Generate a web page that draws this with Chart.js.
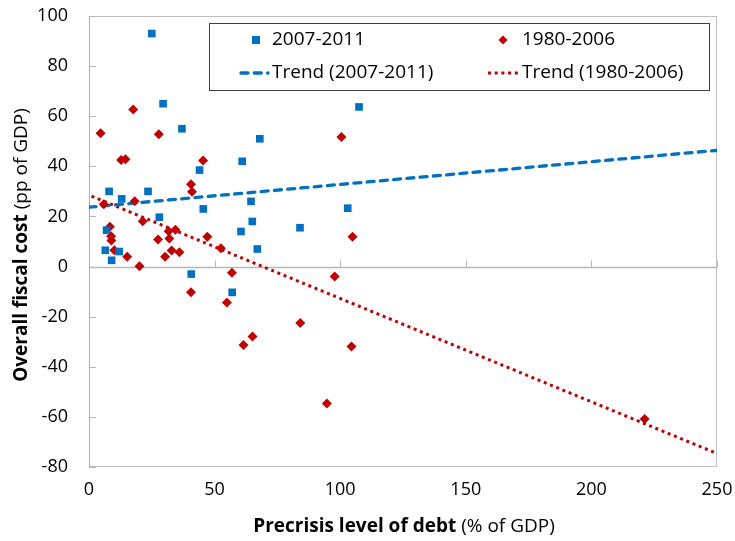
<!DOCTYPE html>
<html><head><meta charset="utf-8">
<script src="https://cdn.jsdelivr.net/npm/chart.js@4.4.1/dist/chart.umd.min.js"></script>
<style>html,body{margin:0;padding:0;background:#fff}#wrap{width:735px;height:541px}</style>
</head><body><div id="wrap"><canvas id="c" width="735" height="541"></canvas></div>
<script>
// ---- data ----
const blueX = [25, 29.5, 37, 68, 61, 44, 8, 13, 23.5, 45.5, 28, 64.5, 65, 60.5, 67, 84, 7, 6.5, 12, 9, 40.7, 57, 103, 107.5];
const blueY = [93, 65, 55, 51, 42, 38.5, 30, 27, 30, 23, 19.7, 26, 18, 14, 7, 15.5, 14.5, 6.5, 6, 2.5, -3, -10.3, 23.3, 63.7];
const redX = [4.6, 17.6, 27.8, 12.8, 14.5, 45.4, 40.6, 41, 5.9, 18.2, 21.4, 8.3, 8.8, 8.9, 10.1, 15.2, 20.1, 27.5, 31.7, 34.4, 32, 30.3, 32.9, 36, 47.1, 52.5, 56.9, 40.6, 54.9, 65.1, 61.5, 84.1, 100.5, 104.9, 97.8, 104.5, 94.7, 221.2];
const redY = [53.2, 62.7, 52.8, 42.5, 42.8, 42.3, 32.8, 29.9, 24.9, 26.1, 18.1, 15.9, 12.1, 10.4, 6.5, 3.9, 0.1, 10.8, 14.1, 14.7, 11.2, 3.9, 6.4, 5.7, 11.9, 7.3, -2.5, -10.3, -14.3, -27.9, -31.3, -22.5, 51.7, 11.9, -4, -31.9, -54.7, -60.8];
const blueTrendX = [0, 250];
const blueTrendY = [23.7, 46.4];
const redTrendX = [1, 250];
const redTrendY = [28.1, -74.6];
const seriesLabels = ['2007-2011', '1980-2006', 'Trend (2007-2011)', 'Trend (1980-2006)'];
const xTicks = [0, 50, 100, 150, 200, 250];
const yTicks = [-80, -60, -40, -20, 0, 20, 40, 60, 80, 100];

const BLUE = '#0070C0', RED = '#C00000';
const FONT = "'Open Sans', 'Noto Sans', sans-serif";
const pts = (xs, ys) => xs.map((v, i) => ({x: v, y: ys[i]}));
const BLUE_DASH = [7, 6.3], RED_DASH = [3, 3.7];

const overlay = {
  id: 'overlay',
  beforeDatasetsDraw(chart) {
    const {ctx, chartArea: a, scales: {x, y}} = chart;
    ctx.save();
    ctx.strokeStyle = '#bfbfbf';
    ctx.lineWidth = 1;
    ctx.strokeRect(a.left + 0.5, a.top + 0.5, a.right - a.left - 1, a.bottom - a.top - 1);
    const y0 = Math.round(y.getPixelForValue(0)) + 0.5;
    ctx.strokeStyle = '#b8b8b8';
    ctx.lineWidth = 1.5;
    ctx.beginPath(); ctx.moveTo(a.left, y0); ctx.lineTo(a.right, y0); ctx.stroke();
    ctx.lineWidth = 1;
    ctx.beginPath();
    xTicks.forEach(v => { const px = Math.round(x.getPixelForValue(v)) + 0.5; ctx.moveTo(px, y0); ctx.lineTo(px, y0 - 7); });
    yTicks.forEach(v => { const py = Math.round(y.getPixelForValue(v)) + 0.5; ctx.moveTo(a.left, py); ctx.lineTo(a.left + 7, py); });
    ctx.stroke();
    ctx.strokeStyle = '#b0b0b0';
    ctx.beginPath(); ctx.moveTo(a.left + 0.5, a.top); ctx.lineTo(a.left + 0.5, a.bottom); ctx.stroke();
    ctx.restore();
  },
  afterDraw(chart) {
    const {ctx} = chart;
    ctx.save();
    ctx.fillStyle = '#000';
    const bold = '700 19px ' + FONT, norm = '400 19px ' + FONT;
    const t1 = 'Overall fiscal cost', t2 = ' (pp of GDP)';
    ctx.font = bold; const w1 = ctx.measureText(t1).width;
    ctx.font = norm; const w2 = ctx.measureText(t2).width;
    ctx.translate(22, 245); ctx.rotate(-Math.PI / 2);
    ctx.textBaseline = 'middle'; ctx.textAlign = 'left';
    let sx = -(w1 + w2) / 2;
    ctx.font = bold; ctx.fillText(t1, sx, 0);
    ctx.font = norm; ctx.fillText(t2, sx + w1, 0);
    ctx.setTransform(1, 0, 0, 1, 0, 0);
    const u1 = 'Precrisis level of debt', u2 = ' (% of GDP)';
    ctx.font = bold; const v1 = ctx.measureText(u1).width;
    ctx.font = norm; const v2 = ctx.measureText(u2).width;
    sx = 404 - (v1 + v2) / 2;
    ctx.font = bold; ctx.fillText(u1, sx, 527);
    ctx.font = norm; ctx.fillText(u2, sx + v1, 527);
    // legend box
    ctx.fillStyle = '#fff';
    ctx.fillRect(209, 23, 500, 67);
    ctx.strokeStyle = '#404040'; ctx.lineWidth = 1;
    ctx.strokeRect(209.5, 23.5, 500, 67);
    const ds = chart.data.datasets;
    ctx.font = '400 19px ' + FONT;
    ctx.textBaseline = 'middle';
    ctx.fillStyle = BLUE; ctx.fillRect(252, 36, 8, 8);
    ctx.fillStyle = RED; ctx.beginPath(); ctx.moveTo(503, 35.5); ctx.lineTo(507.5, 40); ctx.lineTo(503, 44.5); ctx.lineTo(498.5, 40); ctx.closePath(); ctx.fill();
    ctx.fillStyle = '#000';
    ctx.fillText(ds[0].label, 272, 40);
    ctx.fillText(ds[1].label, 522, 40);
    ctx.lineWidth = 3.3; ctx.strokeStyle = BLUE; ctx.setLineDash(BLUE_DASH); ctx.lineCap = 'round';
    ctx.beginPath(); ctx.moveTo(241, 73); ctx.lineTo(268, 73); ctx.stroke();
    ctx.lineWidth = 3; ctx.strokeStyle = RED; ctx.setLineDash(RED_DASH); ctx.lineCap = 'butt';
    ctx.beginPath(); ctx.moveTo(488, 73); ctx.lineTo(519, 73); ctx.stroke();
    ctx.setLineDash([]);
    ctx.fillText(ds[2].label, 272, 73);
    ctx.fillText(ds[3].label, 522, 73);
    ctx.restore();
  }
};

new Chart(document.getElementById('c'), {
  type: 'scatter',
  data: {
    datasets: [
      {label: seriesLabels[0], data: pts(blueX, blueY), pointStyle: 'rect', pointRadius: 5.4, pointHoverRadius: 5.4,
       backgroundColor: BLUE, borderColor: BLUE, borderWidth: 0, order: 0},
      {label: seriesLabels[1], data: pts(redX, redY), pointStyle: 'rectRot', pointRadius: 5, pointHoverRadius: 5,
       backgroundColor: RED, borderColor: RED, borderWidth: 0, order: 0},
      {label: seriesLabels[2], data: pts(blueTrendX, blueTrendY), showLine: true, pointRadius: 0, borderColor: BLUE,
       borderWidth: 3.3, borderDash: BLUE_DASH, borderCapStyle: 'round', order: 1},
      {label: seriesLabels[3], data: pts(redTrendX, redTrendY), showLine: true, pointRadius: 0, borderColor: RED,
       borderWidth: 3, borderDash: RED_DASH, order: 1}
    ]
  },
  options: {
    responsive: false, animation: false, devicePixelRatio: 1,
    layout: {padding: {left: 0, right: 18, top: 16, bottom: 0}},
    plugins: {legend: {display: false}, tooltip: {enabled: false}, title: {display: false}},
    scales: {
      x: {type: 'linear', min: 0, max: 250, position: 'bottom',
          afterFit: s => { s.height = 74; s.paddingLeft = 0; s.paddingRight = 0; },
          afterBuildTicks: s => { s.ticks = xTicks.map(v => ({value: v})); },
          grid: {display: false, drawTicks: false}, border: {display: false},
          ticks: {padding: 12, color: '#000', font: {family: FONT, size: 18}, maxRotation: 0}},
      y: {type: 'linear', min: -80, max: 100,
          afterFit: s => { s.width = 89; s.paddingTop = 0; s.paddingBottom = 0; },
          afterBuildTicks: s => { s.ticks = yTicks.map(v => ({value: v})); },
          grid: {display: false, drawTicks: false}, border: {display: false},
          ticks: {padding: 21, color: '#000', font: {family: FONT, size: 18}}}
    }
  },
  plugins: [overlay]
});
</script></body></html>
